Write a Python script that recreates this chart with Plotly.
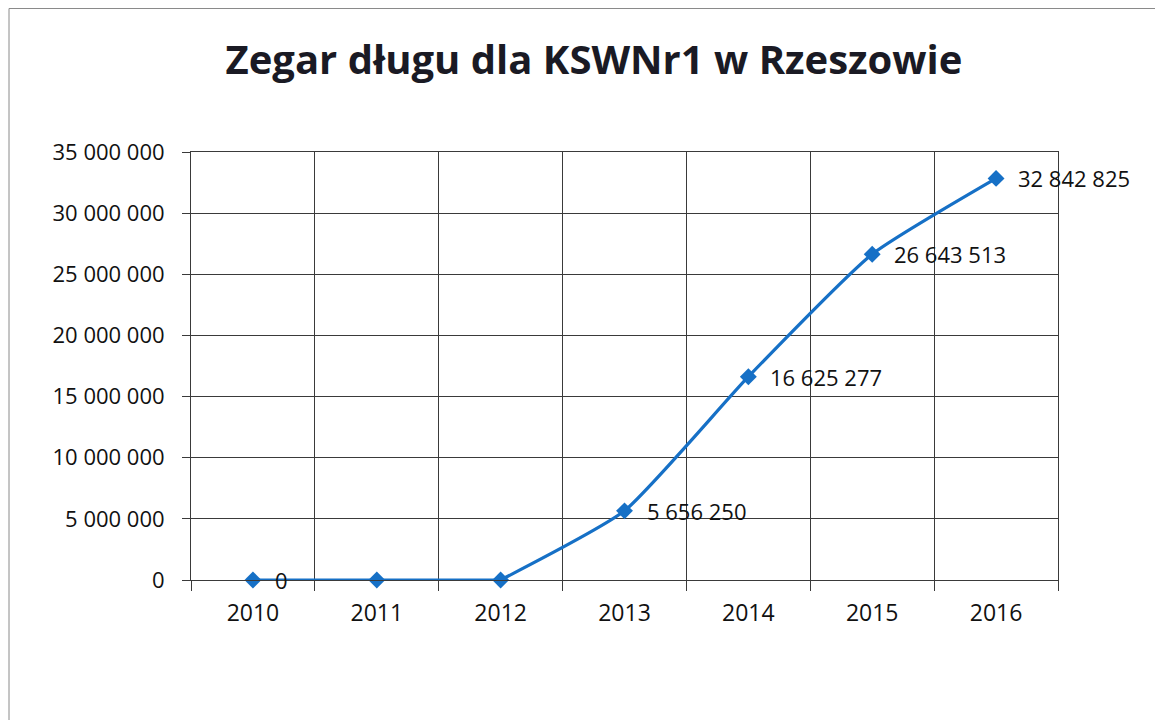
import plotly.graph_objects as go

years = ["2010", "2011", "2012", "2013", "2014", "2015", "2016"]
debt = [0, 0, 0, 5656250, 16625277, 26643513, 32842825]
labels = ["0", "", "", "5 656 250", "16 625 277", "26 643 513", "32 842 825"]
y_ticks = [0, 5000000, 10000000, 15000000, 20000000, 25000000, 30000000, 35000000]
y_tick_text = ["0", "5 000 000", "10 000 000", "15 000 000", "20 000 000",
               "25 000 000", "30 000 000", "35 000 000"]

# page body has an 8px margin; figure sized to fill the rest of the window
W, H = 1155, 712
L, R, T, B = 183, 105, 144, 140
BLUE = "#1670c6"

fig = go.Figure()
# flat start drawn straight, rising part smoothed
fig.add_trace(go.Scatter(
    x=years[:3], y=debt[:3], mode="lines",
    line=dict(color=BLUE, width=3.2), showlegend=False, hoverinfo="skip",
))
fig.add_trace(go.Scatter(
    x=years[2:], y=debt[2:], mode="lines",
    line=dict(color=BLUE, width=3.2, shape="spline", smoothing=0.5),
    showlegend=False, hoverinfo="skip",
))
fig.add_trace(go.Scatter(
    x=years, y=debt, mode="markers",
    marker=dict(symbol="diamond", size=13, color=BLUE),
    cliponaxis=False, showlegend=False,
))
for i, (val, lab) in enumerate(zip(debt, labels)):
    if lab:
        fig.add_annotation(x=i, y=val, xref="x", yref="y", text=lab, showarrow=False,
                           xanchor="left", yanchor="middle", xshift=20,
                           font=dict(family="Open Sans", size=22, color="#111111"))

pw = W - L - R
ph = H - T - B
fig.add_shape(type="rect", xref="paper", yref="paper",
              x0=(1 - L) / pw, x1=(W + 50 - L) / pw,
              y0=-(B + 50) / ph, y1=(H - B - 0.5) / ph,
              line=dict(color="#8a8a8a", width=1), layer="below")

fig.update_layout(
    width=W, height=H,
    margin=dict(l=L, r=R, t=T, b=B),
    paper_bgcolor="white", plot_bgcolor="white",
    title=dict(text="<b>Zegar długu dla KSWNr1 w Rzeszowie</b>",
               x=(594 - 8) / W, xanchor="center", y=1 - 52 / H, yanchor="middle",
               font=dict(family="Open Sans", size=40, color="#1a1a24")),
    xaxis=dict(type="category", categoryorder="array", categoryarray=years,
               range=[-0.5, len(years) - 0.5], tickson="boundaries",
               showgrid=True, gridcolor="#3a3a3a", gridwidth=1,
               showline=True, linecolor="#3a3a3a", linewidth=1, mirror=True,
               ticks="outside", ticklen=10, tickcolor="#3a3a3a",
               tickfont=dict(family="Open Sans", size=23, color="#111111"),
               ticklabelstandoff=12),
    yaxis=dict(range=[0, 35000000], tickvals=y_ticks, ticktext=y_tick_text,
               showgrid=True, gridcolor="#3a3a3a", gridwidth=1,
               showline=True, linecolor="#3a3a3a", linewidth=1, mirror=True,
               zeroline=False,
               ticks="outside", ticklen=8, tickcolor="#3a3a3a",
               tickfont=dict(family="Open Sans", size=22, color="#111111"),
               ticklabelstandoff=13),
)

fig.write_html("out.html")
